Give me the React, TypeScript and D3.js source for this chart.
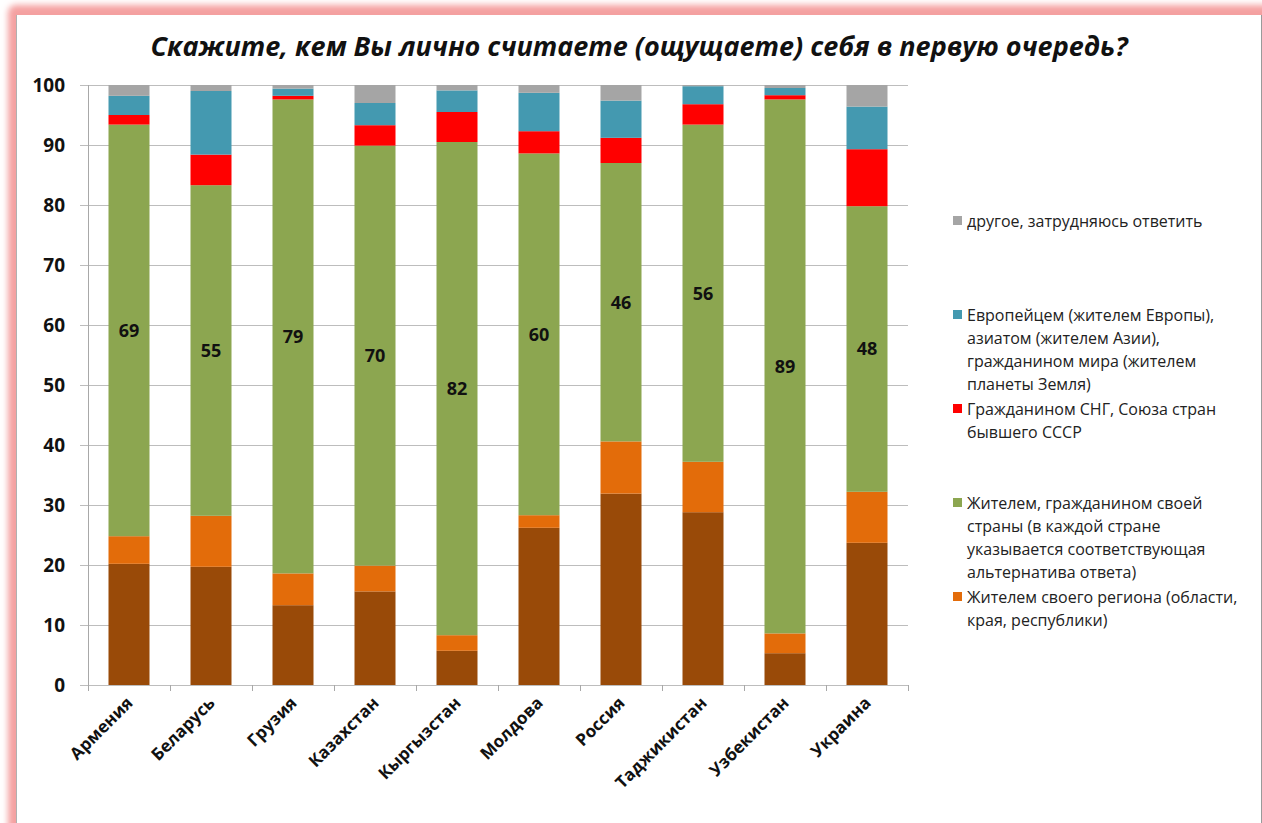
import React from 'react';
import * as d3 from 'd3';

const title = 'Скажите, кем Вы лично считаете (ощущаете) себя в первую очередь?';

const countries = ['Армения', 'Беларусь', 'Грузия', 'Казахстан', 'Кыргызстан', 'Молдова', 'Россия', 'Таджикистан', 'Узбекистан', 'Украина'];

// bottom to top
const cityVals = [20.2, 19.7, 13.3, 15.6, 5.7, 26.2, 31.9, 28.8, 5.3, 23.7];
const regionVals = [4.6, 8.5, 5.3, 4.3, 2.6, 2.1, 8.7, 8.4, 3.3, 8.5];
const countryVals = [68.6, 55.1, 79.0, 70.0, 82.2, 60.3, 46.4, 56.2, 89.0, 47.6];
const cisVals = [1.6, 5.1, 0.6, 3.4, 5.0, 3.7, 4.2, 3.4, 0.7, 9.5];
const worldVals = [3.2, 10.6, 1.2, 3.7, 3.6, 6.4, 6.2, 3.0, 1.2, 7.1];
const otherVals = [1.8, 1.0, 0.6, 3.0, 0.9, 1.3, 2.6, 0.2, 0.5, 3.6];

const countryLabels = ['69', '55', '79', '70', '82', '60', '46', '56', '89', '48'];

const yTicks = [0, 10, 20, 30, 40, 50, 60, 70, 80, 90, 100];

const seriesKeys = ['city', 'region', 'country', 'cis', 'world', 'other'];
const seriesColors = ['#994A08', '#E36C0A', '#8CA650', '#FF0000', '#4499B0', '#A5A5A5'];

// legend, top to bottom (no entry for the bottom series)
const legendKeys = ['other', 'world', 'cis', 'country', 'region'];
const legendLines = [
  ['другое, затрудняюсь ответить'],
  ['Европейцем (жителем Европы),', 'азиатом (жителем Азии),', 'гражданином мира (жителем', 'планеты Земля)'],
  ['Гражданином СНГ, Союза стран', 'бывшего СССР'],
  ['Жителем, гражданином своей', 'страны (в каждой стране', 'указывается соответствующая', 'альтернатива ответа)'],
  ['Жителем своего региона (области,', 'края, республики)'],
];

const W = 1262, H = 823;
const left = 88, right = 908, top = 85, bottom = 685;
const font = '"Open Sans", "DejaVu Sans", sans-serif';

export default function App() {
  const rows = countries.map((c, i) => ({
    name: c,
    city: cityVals[i],
    region: regionVals[i],
    country: countryVals[i],
    cis: cisVals[i],
    world: worldVals[i],
    other: otherVals[i],
  }));

  const stack = d3.stack<any>().keys(seriesKeys);
  const layers = stack(rows);

  const x = d3.scaleBand().domain(countries).range([left, right]).paddingInner(0.5).paddingOuter(0.25);
  const y = d3.scaleLinear().domain([0, 100]).range([bottom, top]);
  const color = d3.scaleOrdinal<string, string>().domain(seriesKeys).range(seriesColors);
  const legendY = d3.scaleLinear().domain([0, 4]).range([221, 597]);

  const step = x.step();
  const bounds = d3.range(countries.length + 1).map(i => left + i * step);

  const countryLayer = layers[2];

  return (
    <svg width={W} height={H} style={{ position: 'absolute', left: 0, top: 0, display: 'block' }} fontFamily={font}>
      <defs>
        <filter id="glow" x="-5%" y="-5%" width="110%" height="110%">
          <feGaussianBlur stdDeviation="3" />
        </filter>
      </defs>
      <rect x={0} y={0} width={W} height={H} fill="#fff" />
      {/* pink frame */}
      <rect x={8} y={5} width={W + 20} height={H + 40} rx={8} fill="#F4A0A0" filter="url(#glow)" />
      <rect x={16} y={15} width={W} height={H} fill="#fff" />
      <line x1={16.5} x2={16.5} y1={15} y2={H} stroke="#B0B0B0" />
      <line x1={W - 0.5} x2={W - 0.5} y1={15} y2={H} stroke="#9A9A9A" />

      <text x={639} y={56} textAnchor="middle" fontSize={27} fontWeight={700} fontStyle="italic" fill="#111">{title}</text>

      {/* grid + y axis */}
      <g>
        {yTicks.map(t => (
          <g key={t}>
            <line x1={80} x2={right} y1={Math.round(y(t)) + 0.5} y2={Math.round(y(t)) + 0.5} stroke="#BDBDBD" />
            <text x={65} y={y(t)} dy="0.35em" textAnchor="end" fontSize={19} fontWeight={700} fill="#111">{t}</text>
          </g>
        ))}
        <line x1={left + 0.5} x2={left + 0.5} y1={top} y2={bottom} stroke="#A8A8A8" />
        {bounds.map((b, i) => (
          <line key={i} x1={Math.round(b) + 0.5} x2={Math.round(b) + 0.5} y1={bottom} y2={bottom + 6} stroke="#A8A8A8" />
        ))}
      </g>

      {/* bars */}
      {layers.map(layer => (
        <g key={layer.key} fill={color(layer.key)}>
          {layer.map((d, i) => (
            <rect key={i} x={x(countries[i])} y={y(d[1])} width={x.bandwidth()} height={y(d[0]) - y(d[1])} />
          ))}
        </g>
      ))}

      {/* labels on the own-country series */}
      {countryLayer.map((d, i) => (
        <text key={i} x={(x(countries[i]) as number) + x.bandwidth() / 2} y={y((d[0] + d[1]) / 2)} dy="0.35em"
          textAnchor="middle" fontSize={18} fontWeight={700} fill="#111">{countryLabels[i]}</text>
      ))}

      {/* x labels */}
      {countries.map(c => (
        <text key={c} transform={`translate(${(x(c) as number) + x.bandwidth() / 2 + 5},${bottom + 19}) rotate(-45)`}
          textAnchor="end" fontSize={17} fontWeight={700} fill="#111">{c}</text>
      ))}

      {/* legend */}
      {legendKeys.map((k, i) => (
        <g key={k} transform={`translate(953,${legendY(i)})`}>
          <rect x={0} y={-5} width={9} height={9} fill={color(k)} />
          {legendLines[i].map((ln, j) => (
            <text key={j} x={14} y={j * 23} dy="0.35em" fontSize={16} fill="#222">{ln}</text>
          ))}
        </g>
      ))}
    </svg>
  );
}
